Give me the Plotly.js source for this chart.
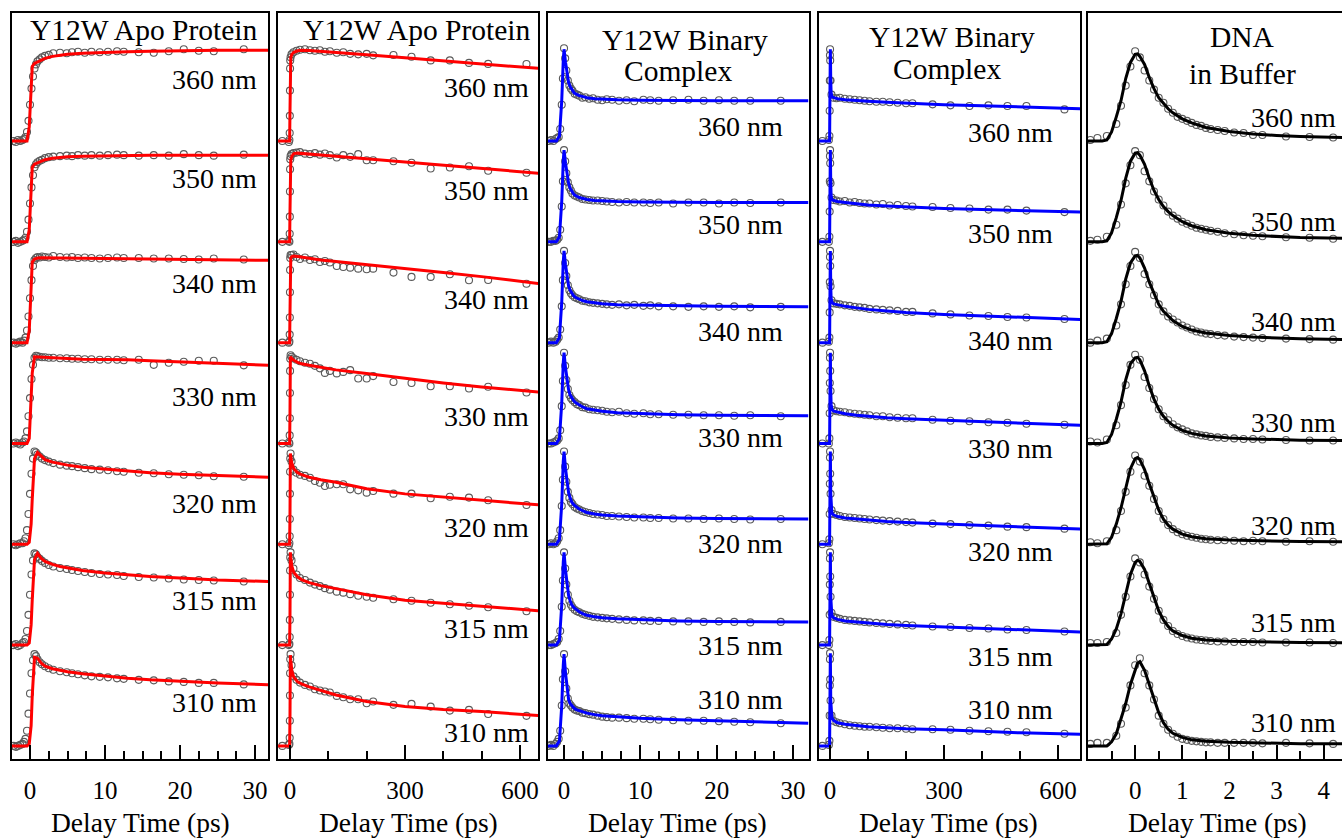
<!DOCTYPE html>
<html><head><meta charset="utf-8">
<script src="https://cdn.plot.ly/plotly-3.0.1.min.js"></script>
<style>html,body{margin:0;padding:0;overflow:hidden;background:#fff}#chart{width:1352px;height:839px}</style>
</head><body><div id="chart"></div>
<script>
const wavelengths = ['360 nm','350 nm','340 nm','330 nm','320 nm','315 nm','310 nm'];

// ---------- Panel 1: Y12W Apo Protein, 0-30 ps ----------
const apoShortTime = [-2.2,-1.9,-1.6,-1.3,-1.0,-0.8,-0.6,-0.4,-0.2,0,0.2,0.4,0.6,0.8,1.0,1.3,1.6,2.0,2.5,3.1,4.0,4.9,5.6,6.4,7.3,8.2,9.3,10.4,11.6,12.5,14.5,16.5,18.5,20.5,22.5,24.5,28.5];
const apoShort360 = [0.0,-0.01,0.01,0.0,0.01,0.02,0.04,0.09,0.2,0.36,0.52,0.64,0.72,0.76,0.79,0.81,0.83,0.845,0.855,0.87,0.875,0.87,0.88,0.885,0.875,0.885,0.88,0.885,0.89,0.885,0.88,0.875,0.89,0.91,0.895,0.89,0.91];
const apoShort350 = [0.0,0.01,-0.01,0.0,0.01,0.02,0.04,0.1,0.22,0.38,0.54,0.66,0.74,0.77,0.79,0.805,0.815,0.83,0.84,0.845,0.85,0.855,0.85,0.86,0.855,0.86,0.855,0.86,0.865,0.86,0.855,0.86,0.855,0.87,0.86,0.855,0.865];
const apoShort340 = [0.0,-0.01,0.0,0.01,0.0,0.02,0.05,0.12,0.26,0.44,0.62,0.76,0.82,0.84,0.85,0.845,0.855,0.85,0.845,0.86,0.85,0.845,0.85,0.84,0.845,0.84,0.835,0.84,0.845,0.84,0.84,0.835,0.835,0.83,0.825,0.835,0.825];
const apoShort330 = [0.0,0.01,0.0,-0.01,0.01,0.02,0.05,0.12,0.27,0.45,0.64,0.78,0.85,0.87,0.865,0.86,0.855,0.855,0.85,0.85,0.845,0.845,0.84,0.84,0.835,0.835,0.83,0.83,0.83,0.825,0.83,0.78,0.8,0.81,0.82,0.82,0.775];
const apoShort320 = [0.0,-0.01,0.0,0.01,0.01,0.03,0.06,0.14,0.3,0.5,0.7,0.85,0.92,0.91,0.89,0.87,0.85,0.835,0.82,0.805,0.79,0.78,0.775,0.765,0.755,0.745,0.74,0.735,0.725,0.72,0.71,0.705,0.695,0.69,0.685,0.675,0.67];
const apoShort315 = [0.0,0.01,-0.01,0.0,0.02,0.03,0.06,0.14,0.3,0.5,0.7,0.84,0.91,0.9,0.875,0.855,0.835,0.815,0.795,0.78,0.765,0.755,0.745,0.735,0.725,0.715,0.705,0.7,0.695,0.685,0.675,0.67,0.66,0.65,0.645,0.64,0.63];
const apoShort310 = [0.0,-0.01,0.0,0.01,0.02,0.04,0.07,0.15,0.32,0.52,0.72,0.85,0.91,0.89,0.86,0.83,0.81,0.79,0.77,0.755,0.74,0.73,0.72,0.71,0.7,0.69,0.685,0.68,0.67,0.665,0.655,0.65,0.64,0.635,0.625,0.625,0.61];
const apoShortFitTime = [-2.4,-0.4,-0.1,0.15,0.3,0.6,1.0,1.5,2,3,4,5,7,10,13,16,20,25,32];
const apoShortFit360 = [0,0,0.14,0.5,0.74,0.77,0.785,0.80,0.82,0.84,0.85,0.86,0.87,0.88,0.885,0.89,0.895,0.90,0.90];
const apoShortFit350 = [0,0,0.12,0.5,0.74,0.77,0.785,0.80,0.815,0.83,0.84,0.845,0.85,0.855,0.86,0.86,0.86,0.86,0.86];
const apoShortFit340 = [0,0,0.12,0.5,0.80,0.83,0.84,0.843,0.843,0.843,0.842,0.84,0.838,0.835,0.832,0.83,0.826,0.822,0.816];
const apoShortFit330 = [0,0,0.05,0.4,0.7,0.86,0.858,0.855,0.852,0.848,0.845,0.842,0.836,0.835,0.83,0.82,0.81,0.795,0.775];
const apoShortFit320 = [0,0,0.02,0.2,0.45,0.85,0.91,0.87,0.84,0.815,0.80,0.785,0.765,0.745,0.725,0.71,0.695,0.68,0.665];
const apoShortFit315 = [0,0,0.02,0.2,0.45,0.85,0.91,0.86,0.83,0.80,0.78,0.765,0.74,0.715,0.695,0.68,0.665,0.645,0.63];
const apoShortFit310 = [0,0,0.02,0.2,0.5,0.88,0.87,0.82,0.79,0.765,0.75,0.735,0.715,0.69,0.67,0.655,0.64,0.625,0.605];

// ---------- Panel 2: Y12W Apo Protein, 0-600 ps ----------
const apoLongTime = [-20,-3,-1.5,-0.8,-0.4,-0.1,0.2,0.6,1.5,4,9,17,26,39,52,65,78,91,104,122,139,157,178,200,217,270,317,367,417,467,517,617];
const apoLong360 = [0,-0.01,0.01,0.08,0.25,0.5,0.72,0.8,0.83,0.86,0.88,0.895,0.905,0.91,0.9,0.895,0.9,0.885,0.89,0.875,0.88,0.865,0.86,0.865,0.85,0.853,0.836,0.80,0.80,0.775,0.765,0.764];
const apoLong350 = [0,0.01,0.0,0.08,0.25,0.5,0.72,0.82,0.85,0.87,0.88,0.885,0.89,0.875,0.87,0.88,0.865,0.877,0.86,0.837,0.86,0.843,0.87,0.81,0.81,0.80,0.784,0.728,0.738,0.75,0.705,0.685];
const apoLong340 = [0,0,0.01,0.08,0.25,0.5,0.72,0.84,0.87,0.87,0.875,0.85,0.83,0.845,0.82,0.827,0.80,0.81,0.795,0.76,0.75,0.744,0.734,0.728,0.734,0.695,0.652,0.652,0.678,0.619,0.622,0.585];
const apoLong330 = [0,0.01,0.0,0.08,0.25,0.5,0.72,0.84,0.875,0.86,0.845,0.83,0.815,0.80,0.79,0.77,0.745,0.70,0.72,0.695,0.71,0.727,0.645,0.645,0.668,0.61,0.60,0.568,0.568,0.545,0.562,0.506];
const apoLong320 = [0,-0.01,0.01,0.08,0.25,0.5,0.72,0.85,0.90,0.82,0.74,0.71,0.69,0.678,0.66,0.628,0.61,0.578,0.59,0.595,0.595,0.545,0.535,0.512,0.529,0.502,0.502,0.456,0.472,0.463,0.436,0.39];
const apoLong315 = [0,0,0.01,0.08,0.25,0.5,0.74,0.87,0.92,0.84,0.76,0.70,0.665,0.645,0.62,0.60,0.585,0.565,0.55,0.53,0.52,0.505,0.49,0.48,0.47,0.455,0.44,0.42,0.405,0.39,0.375,0.335];
const apoLong310 = [0,0.01,0.02,0.08,0.25,0.5,0.72,0.86,0.91,0.80,0.69,0.655,0.628,0.605,0.589,0.562,0.549,0.539,0.529,0.496,0.483,0.463,0.463,0.423,0.44,0.407,0.417,0.39,0.35,0.357,0.317,0.298];
const apoLongFitTime = [-31,-1,0,0.5,1,2,5,10,20,30,50,80,120,200,300,400,500,650];
const apoLongFit360 = [0,0,0.3,0.78,0.80,0.83,0.86,0.88,0.895,0.90,0.897,0.89,0.878,0.855,0.825,0.795,0.765,0.72];
const apoLongFit350 = [0,0,0.3,0.76,0.78,0.81,0.85,0.875,0.88,0.878,0.872,0.862,0.85,0.825,0.79,0.76,0.73,0.68];
const apoLongFit340 = [0,0,0.3,0.80,0.82,0.84,0.855,0.86,0.855,0.848,0.835,0.82,0.805,0.775,0.735,0.695,0.655,0.585];
const apoLongFit330 = [0,0,0.3,0.82,0.86,0.855,0.84,0.825,0.805,0.79,0.775,0.755,0.73,0.695,0.645,0.60,0.56,0.51];
const apoLongFit320 = [0,0,0.3,0.85,0.90,0.87,0.80,0.75,0.71,0.69,0.665,0.64,0.615,0.55,0.50,0.47,0.44,0.39];
const apoLongFit315 = [0,0,0.3,0.86,0.92,0.87,0.78,0.72,0.675,0.65,0.62,0.59,0.56,0.50,0.445,0.415,0.385,0.34];
const apoLongFit310 = [0,0,0.3,0.85,0.90,0.85,0.74,0.68,0.635,0.615,0.585,0.55,0.505,0.44,0.39,0.36,0.34,0.30];

// ---------- Panel 3: Y12W Binary Complex, 0-30 ps ----------
const binShortTime = [-2.0,-1.7,-1.4,-1.1,-0.9,-0.7,-0.5,-0.3,-0.15,0,0.15,0.3,0.5,0.7,0.9,1.1,1.4,1.7,2.0,2.4,2.8,3.3,3.8,4.4,5.0,5.6,6.3,7.2,8.2,9.2,10.4,11.3,12.4,14.3,16.3,18.3,20.3,22.3,24.4,28.4];
const binShort360 = [0.0,0.01,0.0,0.02,0.03,0.04,0.12,0.36,0.62,0.92,0.82,0.7,0.6,0.55,0.52,0.5,0.47,0.46,0.45,0.43,0.435,0.42,0.425,0.41,0.405,0.415,0.41,0.40,0.405,0.395,0.41,0.405,0.40,0.405,0.41,0.40,0.405,0.40,0.40,0.40];
const binShort350 = [0.0,0.0,0.01,0.01,0.02,0.04,0.12,0.35,0.6,0.91,0.8,0.68,0.59,0.54,0.51,0.48,0.46,0.45,0.44,0.425,0.42,0.415,0.41,0.41,0.405,0.4,0.395,0.39,0.395,0.39,0.39,0.385,0.39,0.38,0.39,0.39,0.38,0.39,0.385,0.39];
const binShort340 = [0.0,0.01,0.0,0.01,0.03,0.05,0.13,0.36,0.62,0.91,0.79,0.66,0.57,0.52,0.49,0.47,0.45,0.44,0.43,0.415,0.41,0.4,0.395,0.39,0.385,0.38,0.375,0.38,0.37,0.375,0.365,0.37,0.36,0.36,0.355,0.36,0.355,0.36,0.35,0.355];
const binShort330 = [0.0,0.0,0.01,0.02,0.03,0.05,0.13,0.37,0.62,0.90,0.77,0.63,0.54,0.48,0.45,0.43,0.41,0.39,0.38,0.36,0.355,0.34,0.335,0.33,0.325,0.315,0.31,0.315,0.3,0.295,0.3,0.29,0.29,0.285,0.285,0.28,0.28,0.275,0.28,0.27];
const binShort320 = [0.0,0.01,0.0,0.01,0.03,0.06,0.14,0.38,0.64,0.92,0.77,0.62,0.52,0.46,0.42,0.4,0.37,0.355,0.345,0.33,0.32,0.31,0.3,0.295,0.29,0.28,0.28,0.275,0.27,0.265,0.265,0.26,0.26,0.255,0.255,0.25,0.255,0.25,0.245,0.25];
const binShort315 = [0.0,0.0,0.01,0.02,0.03,0.06,0.14,0.38,0.64,0.92,0.76,0.6,0.5,0.44,0.4,0.375,0.35,0.335,0.325,0.31,0.3,0.29,0.28,0.275,0.27,0.265,0.26,0.255,0.25,0.245,0.245,0.24,0.24,0.235,0.235,0.23,0.235,0.23,0.225,0.23];
const binShort310 = [0.0,0.01,0.0,0.02,0.04,0.07,0.15,0.4,0.66,0.91,0.74,0.57,0.47,0.42,0.4,0.38,0.36,0.35,0.345,0.33,0.325,0.315,0.31,0.30,0.29,0.285,0.28,0.28,0.275,0.27,0.27,0.265,0.26,0.255,0.25,0.25,0.245,0.24,0.235,0.225];
const binShortFitTime = [-2.1,-1.0,-0.6,-0.3,-0.1,0,0.2,0.4,0.6,0.8,1.0,1.3,1.6,2.0,2.5,3,4,5,7,10,15,20,32];
const binShortFit360 = [0,0,0.05,0.4,0.80,0.91,0.78,0.66,0.58,0.54,0.51,0.48,0.465,0.45,0.44,0.43,0.42,0.415,0.41,0.405,0.402,0.40,0.40];
const binShortFit350 = [0,0,0.05,0.4,0.80,0.91,0.78,0.66,0.58,0.53,0.50,0.47,0.455,0.44,0.43,0.42,0.41,0.405,0.40,0.395,0.39,0.39,0.39];
const binShortFit340 = [0,0,0.05,0.4,0.80,0.91,0.77,0.64,0.56,0.52,0.49,0.46,0.445,0.43,0.415,0.405,0.395,0.385,0.375,0.37,0.365,0.36,0.355];
const binShortFit330 = [0,0,0.05,0.4,0.80,0.90,0.75,0.61,0.53,0.48,0.45,0.42,0.40,0.38,0.36,0.345,0.33,0.32,0.305,0.295,0.285,0.28,0.275];
const binShortFit320 = [0,0,0.05,0.4,0.82,0.92,0.75,0.6,0.51,0.46,0.42,0.39,0.37,0.35,0.33,0.315,0.30,0.29,0.28,0.27,0.26,0.255,0.25];
const binShortFit315 = [0,0,0.05,0.4,0.82,0.92,0.74,0.58,0.49,0.44,0.40,0.37,0.35,0.33,0.31,0.295,0.28,0.27,0.26,0.25,0.24,0.235,0.23];
const binShortFit310 = [0,0,0.05,0.4,0.80,0.91,0.72,0.55,0.46,0.42,0.40,0.375,0.36,0.35,0.335,0.325,0.31,0.30,0.29,0.275,0.26,0.25,0.225];

// ---------- Panel 4: Y12W Binary Complex, 0-600 ps ----------
const binLongTime = [-20,-3,-1.5,-0.8,-0.4,-0.1,0.2,0.6,1.5,4,9,17,26,39,52,65,78,91,104,122,139,157,178,200,217,270,317,367,417,467,517,617];
const binLong360 = [0,0.01,0.05,0.3,0.6,0.85,0.91,0.8,0.6,0.46,0.43,0.425,0.43,0.42,0.415,0.41,0.405,0.40,0.395,0.39,0.39,0.385,0.38,0.375,0.375,0.364,0.354,0.347,0.354,0.347,0.347,0.314];
const binLong350 = [0,0.0,0.05,0.3,0.6,0.85,0.91,0.78,0.58,0.44,0.415,0.41,0.40,0.405,0.39,0.395,0.385,0.38,0.38,0.37,0.375,0.36,0.365,0.355,0.35,0.345,0.335,0.33,0.32,0.32,0.31,0.295];
const binLong340 = [0,0.01,0.05,0.3,0.6,0.85,0.91,0.76,0.56,0.42,0.39,0.385,0.38,0.37,0.365,0.355,0.35,0.345,0.335,0.33,0.325,0.32,0.315,0.305,0.305,0.29,0.28,0.27,0.265,0.255,0.25,0.235];
const binLong330 = [0,0.0,0.05,0.3,0.6,0.85,0.90,0.72,0.52,0.37,0.33,0.32,0.315,0.31,0.3,0.295,0.29,0.285,0.28,0.27,0.27,0.26,0.255,0.25,0.25,0.235,0.225,0.22,0.21,0.205,0.195,0.185];
const binLong320 = [0,0.01,0.05,0.3,0.6,0.86,0.92,0.7,0.5,0.34,0.3,0.29,0.28,0.27,0.265,0.26,0.255,0.25,0.245,0.24,0.235,0.23,0.225,0.22,0.215,0.205,0.2,0.19,0.185,0.175,0.17,0.155];
const binLong315 = [0,0.0,0.05,0.3,0.6,0.86,0.92,0.68,0.48,0.32,0.28,0.27,0.26,0.25,0.245,0.24,0.235,0.23,0.225,0.22,0.215,0.21,0.205,0.2,0.195,0.185,0.18,0.17,0.165,0.155,0.15,0.135];
const binLong310 = [0,0.01,0.05,0.3,0.6,0.86,0.92,0.66,0.45,0.3,0.25,0.235,0.225,0.215,0.205,0.2,0.195,0.19,0.19,0.185,0.18,0.175,0.175,0.17,0.165,0.165,0.16,0.15,0.145,0.14,0.135,0.12];
const binLongFitTime = [-30,-1,0,1,2,3,5,10,20,40,70,100,150,200,300,400,500,660];
const binLongFit360 = [0,0,0.5,0.91,0.6,0.48,0.44,0.43,0.42,0.41,0.40,0.395,0.385,0.375,0.36,0.35,0.34,0.32];
const binLongFit350 = [0,0,0.5,0.91,0.58,0.46,0.42,0.41,0.40,0.39,0.375,0.365,0.355,0.345,0.33,0.32,0.31,0.295];
const binLongFit340 = [0,0,0.5,0.91,0.56,0.44,0.40,0.385,0.375,0.36,0.345,0.33,0.315,0.30,0.28,0.265,0.25,0.23];
const binLongFit330 = [0,0,0.5,0.90,0.52,0.39,0.34,0.32,0.31,0.295,0.28,0.27,0.255,0.245,0.23,0.215,0.20,0.18];
const binLongFit320 = [0,0,0.5,0.92,0.5,0.36,0.31,0.29,0.275,0.26,0.25,0.24,0.225,0.215,0.2,0.185,0.17,0.15];
const binLongFit315 = [0,0,0.5,0.92,0.48,0.34,0.29,0.27,0.255,0.24,0.23,0.22,0.205,0.195,0.18,0.165,0.15,0.13];
const binLongFit310 = [0,0,0.5,0.92,0.45,0.32,0.28,0.25,0.23,0.215,0.20,0.19,0.18,0.17,0.16,0.145,0.13,0.115];

// ---------- Panel 5: DNA in Buffer, 0-4 ps ----------
const dnaTime = [-0.95,-0.8,-0.6,-0.4,-0.3,-0.2,-0.1,0,0.1,0.2,0.3,0.4,0.5,0.6,0.7,0.8,0.9,1.0,1.1,1.2,1.3,1.4,1.5,1.6,1.75,1.9,2.1,2.3,2.5,2.7,3.2,3.7,4.2];
const dna360 = [0.01,0.03,0.05,0.17,0.35,0.55,0.74,0.89,0.83,0.7,0.6,0.51,0.43,0.38,0.32,0.28,0.24,0.22,0.2,0.18,0.16,0.15,0.13,0.12,0.11,0.1,0.085,0.08,0.06,0.06,0.045,0.04,0.035];
const dna350 = [0.01,0.02,0.05,0.17,0.37,0.58,0.76,0.9,0.86,0.7,0.6,0.5,0.42,0.36,0.3,0.26,0.23,0.2,0.18,0.16,0.14,0.13,0.12,0.11,0.1,0.085,0.075,0.065,0.06,0.055,0.045,0.04,0.03];
const dna340 = [0.0,0.02,0.04,0.17,0.38,0.58,0.76,0.9,0.84,0.68,0.58,0.47,0.38,0.31,0.26,0.23,0.2,0.17,0.15,0.13,0.11,0.1,0.09,0.085,0.075,0.07,0.06,0.055,0.05,0.045,0.04,0.035,0.03];
const dna330 = [0.02,0.01,0.04,0.18,0.38,0.58,0.78,0.88,0.83,0.66,0.55,0.44,0.34,0.27,0.23,0.19,0.16,0.14,0.12,0.1,0.09,0.08,0.075,0.065,0.06,0.055,0.05,0.045,0.045,0.04,0.035,0.03,0.03];
const dna320 = [0.02,0.01,0.03,0.14,0.33,0.52,0.72,0.88,0.82,0.68,0.58,0.45,0.33,0.25,0.19,0.15,0.12,0.1,0.085,0.075,0.065,0.055,0.05,0.045,0.04,0.04,0.035,0.03,0.035,0.03,0.025,0.03,0.025];
const dna315 = [0.02,0.02,0.03,0.12,0.3,0.48,0.68,0.86,0.82,0.7,0.58,0.46,0.34,0.25,0.19,0.14,0.11,0.09,0.075,0.065,0.055,0.05,0.045,0.04,0.035,0.035,0.03,0.03,0.03,0.025,0.025,0.025,0.02];
const dna310 = [0.02,0.03,0.03,0.1,0.22,0.38,0.6,0.8,0.87,0.72,0.6,0.46,0.3,0.22,0.16,0.12,0.09,0.07,0.06,0.05,0.045,0.04,0.035,0.035,0.03,0.03,0.03,0.03,0.03,0.025,0.03,0.025,0.02];
const dnaFitTime = [-1.1,-0.7,-0.6,-0.5,-0.4,-0.3,-0.2,-0.1,0,0.05,0.1,0.2,0.3,0.4,0.5,0.6,0.7,0.8,1.0,1.2,1.5,2.0,2.5,3.0,3.5,4.7];
const dnaFit360 = [0,0,0.01,0.09,0.24,0.40,0.62,0.78,0.86,0.865,0.84,0.76,0.63,0.52,0.43,0.37,0.32,0.28,0.22,0.18,0.135,0.095,0.07,0.055,0.045,0.033];
const dnaFit350 = [0,0,0.01,0.09,0.24,0.41,0.63,0.80,0.88,0.885,0.86,0.77,0.63,0.51,0.42,0.35,0.30,0.26,0.20,0.16,0.12,0.085,0.065,0.05,0.042,0.032];
const dnaFit340 = [0,0,0.01,0.09,0.24,0.41,0.63,0.79,0.86,0.865,0.84,0.74,0.6,0.48,0.38,0.31,0.26,0.22,0.16,0.125,0.095,0.07,0.055,0.045,0.038,0.03];
const dnaFit330 = [0,0,0.01,0.09,0.24,0.41,0.63,0.79,0.85,0.855,0.83,0.72,0.57,0.44,0.34,0.27,0.22,0.18,0.13,0.1,0.075,0.055,0.045,0.038,0.033,0.028];
const dnaFit320 = [0,0,0.005,0.07,0.2,0.36,0.56,0.75,0.85,0.86,0.84,0.74,0.6,0.46,0.34,0.25,0.19,0.15,0.1,0.075,0.055,0.042,0.035,0.03,0.027,0.024];
const dnaFit315 = [0,0,0.005,0.06,0.16,0.31,0.5,0.7,0.82,0.84,0.83,0.75,0.61,0.47,0.34,0.25,0.185,0.14,0.095,0.068,0.05,0.038,0.032,0.028,0.025,0.022];
const dnaFit310 = [0,0,0.0,0.04,0.12,0.27,0.42,0.61,0.76,0.82,0.835,0.75,0.61,0.47,0.33,0.23,0.165,0.125,0.085,0.06,0.045,0.035,0.03,0.025,0.022,0.02];

// ---------- tick labels and titles ----------
const panelTitles = [['Y12W Apo Protein'], ['Y12W Apo Protein'], ['Y12W Binary','Complex'], ['Y12W Binary','Complex'], ['DNA','in Buffer']];
const tickValsShort = [0,10,20,30];
const tickValsLong = [0,300,600];
const tickValsDna = [0,1,2,3,4];
const axisTitle = 'Delay Time (ps)';

// ---------- layout (pixel geometry) ----------
const W = 1352, H = 839;
const PX = v => v / W, PY = v => 1 - v / H;
const FONT = 'Liberation Serif, Times New Roman, serif';

const panels = [
  {x0:12, x1:268, range:[-2.4,31.73], ticks:tickValsShort, minor:2.5, color:'#ff0000',
   t:apoShortTime, ft:apoShortFitTime,
   d:[apoShort360,apoShort350,apoShort340,apoShort330,apoShort320,apoShort315,apoShort310],
   f:[apoShortFit360,apoShortFit350,apoShortFit340,apoShortFit330,apoShortFit320,apoShortFit315,apoShortFit310],
   lx:259, ly:[79,178,283,397,503,600,702], titleRight:260, titleY:[30], tcx:140},
  {x0:278, x1:538, range:[-31.3,647], ticks:tickValsLong, minor:100, color:'#ff0000',
   t:apoLongTime, ft:apoLongFitTime,
   d:[apoLong360,apoLong350,apoLong340,apoLong330,apoLong320,apoLong315,apoLong310],
   f:[apoLongFit360,apoLongFit350,apoLongFit340,apoLongFit330,apoLongFit320,apoLongFit315,apoLongFit310],
   lx:531, ly:[87,190,300,417,527,628,732], titleRight:533, titleY:[30], tcx:408},
  {x0:548, x1:809, range:[-2.1,32.1], ticks:tickValsShort, minor:2.5, color:'#0000ff',
   t:binShortTime, ft:binShortFitTime,
   d:[binShort360,binShort350,binShort340,binShort330,binShort320,binShort315,binShort310],
   f:[binShortFit360,binShortFit350,binShortFit340,binShortFit330,binShortFit320,binShortFit315,binShortFit310],
   lx:785, ly:[126,224,331,437,543,645,699], titleCenter:[685,678], titleY:[40,71], tcx:678},
  {x0:819, x1:1080, range:[-28.9,657.9], ticks:tickValsLong, minor:100, color:'#0000ff',
   t:binLongTime, ft:binLongFitTime,
   d:[binLong360,binLong350,binLong340,binLong330,binLong320,binLong315,binLong310],
   f:[binLongFit360,binLongFit350,binLongFit340,binLongFit330,binLongFit320,binLongFit315,binLongFit310],
   lx:1055, ly:[132,233,340,448,551,656,709], titleCenter:[952,947], titleY:[37,69], tcx:948},
  {x0:1088, x1:1352, range:[-1,4.6], ticks:tickValsDna, minor:0.5, color:'#000000',
   t:dnaTime, ft:dnaFitTime,
   d:[dna360,dna350,dna340,dna330,dna320,dna315,dna310],
   f:[dnaFit360,dnaFit350,dnaFit340,dnaFit330,dnaFit320,dnaFit315,dnaFit310],
   lx:1338, ly:[117,221,322,422,525,622,722], titleCenter:[1242,1242], titleY:[37,74], tcx:1217}
];

const traces = [];
const layout = {
  width: W, height: H, margin:{l:0,r:0,t:0,b:0},
  paper_bgcolor:'#fff', plot_bgcolor:'#fff', showlegend:false,
  font:{family:FONT, color:'#000'}, annotations:[]
};
const yDom = [PY(759), PY(13)];

panels.forEach((p, i) => {
  const n = i === 0 ? '' : String(i + 1);
  const xa = 'x' + n, ya = 'y' + n;
  layout['xaxis' + n] = {
    domain:[PX(p.x0), PX(p.x1)], anchor:ya, range:p.range,
    showline:true, mirror:true, linewidth:2, linecolor:'#000',
    showgrid:false, zeroline:false,
    tickmode:'array', tickvals:p.ticks, ticks:'inside', ticklen:14, tickwidth:2, tickcolor:'#000',
    ticklabelstandoff:8,
    minor:{tickmode:'linear', tick0:0, dtick:p.minor, ticks:'inside', ticklen:8, tickwidth:2, tickcolor:'#000', showgrid:false},
    tickfont:{family:FONT, size:25, color:'#000'}, fixedrange:true
  };
  layout['yaxis' + n] = {
    domain:yDom, anchor:xa, range:[-0.13, 7.27],
    showline:true, mirror:true, linewidth:2, linecolor:'#000',
    showgrid:false, zeroline:false, showticklabels:false, ticks:'', fixedrange:true
  };
  wavelengths.forEach((w, k) => {
    const off = 6 - k;
    traces.push({x:p.t, y:p.d[k].map(v => v + off), xaxis:xa, yaxis:ya, mode:'markers', type:'scatter',
      marker:{symbol:'circle-open', size:7, color:'#5a5a5a', line:{width:1.1}}, hoverinfo:'skip'});
  });
  wavelengths.forEach((w, k) => {
    const off = 6 - k;
    traces.push({x:p.ft, y:p.f[k].map(v => v + off), xaxis:xa, yaxis:ya, mode:'lines', type:'scatter',
      line:{color:p.color, width:3}, hoverinfo:'skip'});
    layout.annotations.push({xref:'paper', yref:'paper', x:PX(p.lx), y:PY(p.ly[k]), xanchor:'right', yanchor:'middle',
      text:w, showarrow:false, font:{family:FONT, size:28, color:'#000'}});
  });
  panelTitles[i].forEach((t, j) => {
    const a = {xref:'paper', yref:'paper', y:PY(p.titleY[j]), yanchor:'middle', text:t, showarrow:false,
      font:{family:FONT, size:29.5, color:'#000'}};
    if (p.titleRight) { a.x = PX(p.titleRight); a.xanchor = 'right'; }
    else { a.x = PX(p.titleCenter[j]); a.xanchor = 'center'; }
    layout.annotations.push(a);
  });
  layout.annotations.push({xref:'paper', yref:'paper', x:PX(p.tcx), y:PY(822), xanchor:'center', yanchor:'middle',
    text:axisTitle, showarrow:false, font:{family:FONT, size:27.5, color:'#000'}});
});

Plotly.newPlot('chart', traces, layout, {displayModeBar:false, staticPlot:true});
</script>
</body></html>
